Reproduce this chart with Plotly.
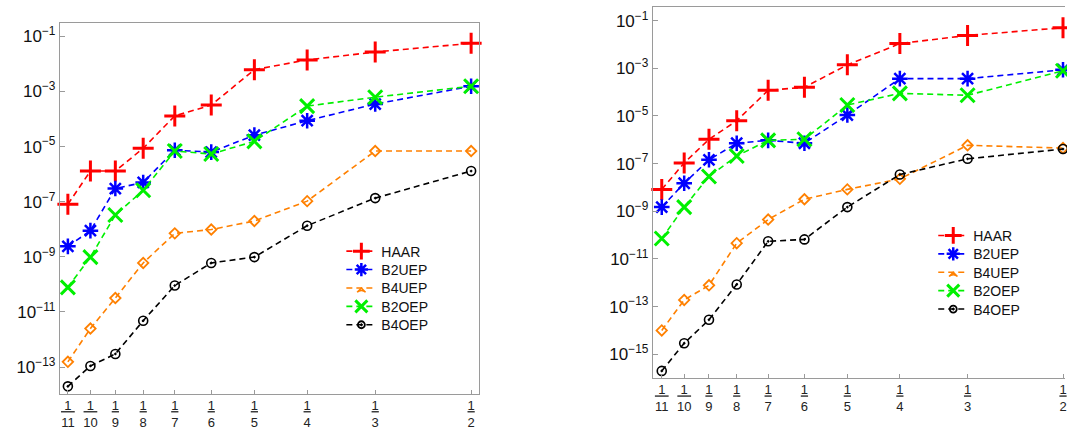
import numpy as np
import plotly.graph_objects as go

# ---------------- data ----------------
denoms = [11, 10, 9, 8, 7, 6, 5, 4, 3, 2]
h_vals = [1.0 / d for d in denoms]
x_ticktext = ["<u>\u20051\u2005</u><br>%d" % d if d >= 10 else "<u>1</u><br>%d" % d for d in denoms]

series_names = ["HAAR", "B2UEP", "B4UEP", "B2OEP", "B4OEP"]

left_haar = [8.1e-8, 1.3e-6, 1.3e-6, 8.7e-6, 1.3e-4, 3.2e-4, 6.2e-3, 1.4e-2, 2.7e-2, 5.6e-2]
left_b2uep = [2.4e-9, 8.9e-9, 3.0e-7, 5.0e-7, 7.4e-6, 6.3e-6, 2.6e-5, 8.7e-5, 3.5e-4, 1.55e-3]
left_b4uep = [1.55e-13, 2.5e-12, 3.2e-11, 6.0e-10, 7.1e-9, 9.8e-9, 2.0e-8, 1.05e-7, 6.9e-6, 6.9e-6]
left_b2oep = [7.8e-11, 9.8e-10, 3.3e-8, 2.6e-7, 6.9e-6, 5.4e-6, 1.55e-5, 2.95e-4, 6.2e-4, 1.55e-3]
left_b4oep = [2.0e-14, 1.1e-13, 3.0e-13, 4.8e-12, 9.1e-11, 6.0e-10, 9.8e-10, 1.35e-8, 1.35e-7, 1.3e-6]

right_haar = [8.3e-9, 1.07e-7, 1.05e-6, 6.3e-6, 1.2e-4, 1.6e-4, 1.4e-3, 1.1e-2, 2.4e-2, 5.1e-2]
right_b2uep = [1.5e-9, 1.5e-8, 1.45e-7, 7.2e-7, 9.5e-7, 7.2e-7, 1.1e-5, 3.7e-4, 3.7e-4, 8.7e-4]
right_b4uep = [1.0e-14, 1.9e-13, 7.8e-13, 4.6e-11, 4.5e-10, 3.2e-9, 8.3e-9, 2.3e-8, 5.9e-7, 4.5e-7]
right_b2oep = [7.2e-11, 1.5e-9, 2.9e-8, 2.1e-7, 9.5e-7, 1.05e-6, 2.9e-5, 8.9e-5, 7.4e-5, 7.9e-4]
right_b4oep = [2.0e-16, 2.9e-15, 2.8e-14, 8.5e-13, 5.5e-11, 6.6e-11, 1.5e-9, 3.5e-8, 1.6e-7, 4.1e-7]

left_ticks = [1e-1, 1e-3, 1e-5, 1e-7, 1e-9, 1e-11, 1e-13]
right_ticks = [1e-1, 1e-3, 1e-5, 1e-7, 1e-9, 1e-11, 1e-13, 1e-15]

# ---------------- styles ----------------
colors = ["#ff0000", "#0000ff", "#ff8000", "#00f000", "#000000"]
symbols = ["cross-thin", "asterisk", "diamond-open", "x-thin", "circle-open-dot"]
sizes = [15, 13, 8, 14, 9]
mlw = [3, 2.5, 1.8, 3, 1.6]
leg_symbols = ["cross-thin", "asterisk", "arrow-wide-open", "x-thin", "circle-open-dot"]
leg_sizes = [12, 11, 6, 12, 7]
leg_mlw = [3, 2.5, 1.5, 3, 1.8]
DASH = "6px,4px"
FONT = "Liberation Sans, Arial, sans-serif"
AXC = "#9a9a9a"

def exp_label(v):
    e = int(round(np.log10(v)))
    return "10<sup>\u2212%d</sup>" % (-e)

fig = go.Figure()

left_data = [left_haar, left_b2uep, left_b4uep, left_b2oep, left_b4oep]
right_data = [right_haar, right_b2uep, right_b4uep, right_b2oep, right_b4oep]

for data, xa, ya in [(left_data, "x", "y"), (right_data, "x2", "y2")]:
    for i, ys in enumerate(data):
        fig.add_trace(go.Scatter(
            x=h_vals, y=ys, xaxis=xa, yaxis=ya, mode="lines+markers",
            showlegend=False, cliponaxis=False,
            line=dict(color=colors[i], width=1.6, dash=DASH),
            marker=dict(symbol=symbols[i], size=sizes[i], color=colors[i],
                        line=dict(color=colors[i], width=mlw[i])),
        ))

W, H = 1067, 430
legend_layout = {}
# one legend per entry so the row spacing can match the reference
panels = [("x", "y", 342, 252), ("x2", "y2", 935, 236)]
ROW = 18.75
n = 1
for xa, ya, lx, ly in panels:
    for i, name in enumerate(series_names):
        key = "legend" if n == 1 else "legend%d" % n
        fig.add_trace(go.Scatter(
            x=[None], y=[None], xaxis=xa, yaxis=ya, mode="lines+markers",
            name=name, legend=key,
            line=dict(color=colors[i], width=1.6, dash=DASH),
            marker=dict(symbol=leg_symbols[i], size=leg_sizes[i], color=colors[i],
                        line=dict(color=colors[i], width=leg_mlw[i])),
        ))
        legend_layout[key] = dict(x=lx / W, y=1 - (ly + i * ROW - 12) / H,
                                  xanchor="left", yanchor="top",
                                  bgcolor="rgba(0,0,0,0)",
                                  font=dict(size=14, family=FONT, color="#111"))
        n += 1

lx0 = np.log10(1 / 11)
lx1 = np.log10(1 / 2)
# left panel: 60..480 px, 1/11 at 68, 1/2 at 472
sc_l = 404 / (lx1 - lx0)
xr_left = [lx0 - 8 / sc_l, lx1 + 8 / sc_l]
# right panel: 654..1067 px, 1/11 at 663, 1/2 at 1065
sc_r = 402 / (lx1 - lx0)
xr_right = [lx0 - 9 / sc_r, lx0 - 9 / sc_r + 413 / sc_r]

xcommon = dict(type="log", tickvals=h_vals, ticktext=x_ticktext, ticks="inside", ticklen=4,
               tickcolor=AXC, showline=True, linecolor=AXC, linewidth=1, showgrid=False,
               zeroline=False, ticklabeloverflow="allow",
               tickfont=dict(size=13, family=FONT, color="#222"))
ycommon = dict(type="log", ticks="inside", ticklen=5, tickcolor=AXC, showline=True,
               linecolor=AXC, linewidth=1, showgrid=False, zeroline=False,
               tickfont=dict(size=17, family=FONT, color="#111"))

fig.update_layout(
    width=W, height=H, margin=dict(l=0, r=0, t=0, b=0),
    paper_bgcolor="white", plot_bgcolor="white",
    font=dict(family=FONT),
    xaxis=dict(xcommon, domain=[60 / W, 480 / W], range=xr_left, mirror=True, anchor="y"),
    yaxis=dict(ycommon, domain=[1 - 401 / H, 1 - 23 / H], range=[-13.96, -0.5], mirror=True,
               tickvals=left_ticks, ticktext=[exp_label(v) for v in left_ticks], anchor="x"),
    xaxis2=dict(xcommon, domain=[654 / W, 1.0], range=xr_right, mirror=True, anchor="y2"),
    yaxis2=dict(ycommon, domain=[1 - 385 / H, 1 - 7 / H], range=[-15.99, -0.42],
                tickvals=right_ticks, ticktext=[exp_label(v) for v in right_ticks], anchor="x2"),
    **legend_layout,
)

fig.write_html("out.html")
